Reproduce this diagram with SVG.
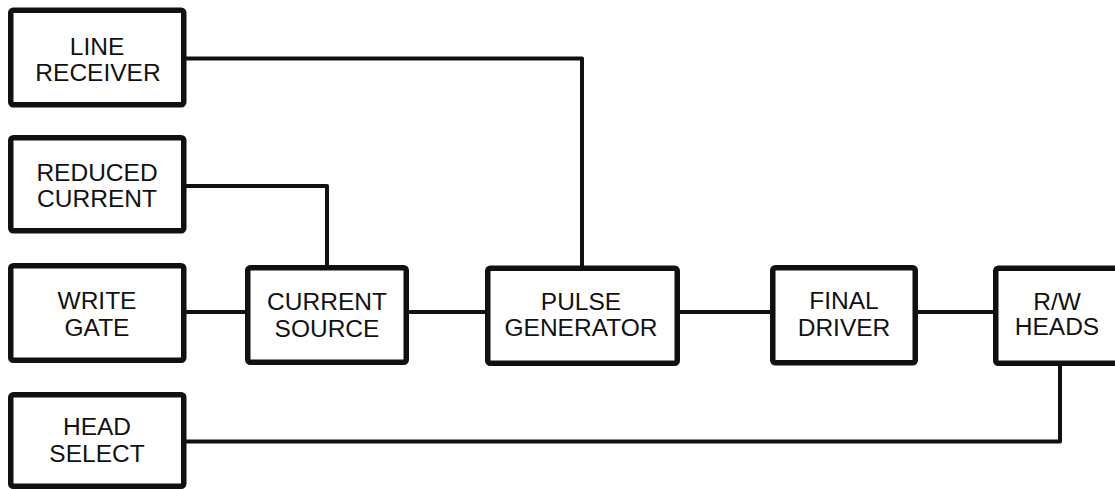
<svg xmlns="http://www.w3.org/2000/svg" width="1115" height="489" viewBox="0 0 1115 489">
<style>
.box{fill:#fff;stroke:#111;stroke-width:5.5;stroke-linejoin:round}
.lbl{font-family:"Liberation Sans",Arial,sans-serif;font-size:24.5px;fill:#111;text-anchor:middle}
.wire{fill:none;stroke:#111;stroke-width:4;stroke-linejoin:round}
</style>
<rect x="0" y="0" width="1115" height="489" fill="#fff"/>
<g id="connectors">
<polyline class="wire" points="186,58.5 582,58.5 582,266"/>
<polyline class="wire" points="186,186 327,186 327,265"/>
<line class="wire" x1="186" y1="312" x2="245" y2="312"/>
<line class="wire" x1="409" y1="312" x2="485" y2="312"/>
<line class="wire" x1="680" y1="312" x2="770" y2="312"/>
<line class="wire" x1="918" y1="312" x2="993" y2="312"/>
<polyline class="wire" points="1060,366 1060,441.5 186,441.5"/>
</g>
<g id="line-receiver">
<rect class="box" x="10.75" y="10.25" width="173" height="94.5" rx="2.5"/>
<text class="lbl" x="97" y="55">LINE</text>
<text class="lbl" x="98" y="81">RECEIVER</text>
</g>
<g id="reduced-current">
<rect class="box" x="10.75" y="137.75" width="173" height="93" rx="2.5"/>
<text class="lbl" x="97" y="181">REDUCED</text>
<text class="lbl" x="97" y="207">CURRENT</text>
</g>
<g id="write-gate">
<rect class="box" x="10.75" y="265.75" width="173" height="94.5" rx="2.5"/>
<text class="lbl" x="97" y="309">WRITE</text>
<text class="lbl" x="97" y="336">GATE</text>
</g>
<g id="current-source">
<rect class="box" x="247.75" y="267.75" width="158.5" height="94.5" rx="2.5"/>
<text class="lbl" x="327" y="310">CURRENT</text>
<text class="lbl" x="327" y="337">SOURCE</text>
</g>
<g id="pulse-generator">
<rect class="box" x="487.75" y="268.25" width="189.5" height="95" rx="2.5"/>
<text class="lbl" x="581" y="309.5">PULSE</text>
<text class="lbl" x="581" y="336">GENERATOR</text>
</g>
<g id="final-driver">
<rect class="box" x="772.75" y="267.75" width="142.5" height="95" rx="2.5"/>
<text class="lbl" x="844" y="309">FINAL</text>
<text class="lbl" x="844" y="336">DRIVER</text>
</g>
<g id="rw-heads">
<rect class="box" x="995.75" y="268.25" width="140" height="95" rx="2.5"/>
<text class="lbl" x="1057" y="310">R/W</text>
<text class="lbl" x="1057" y="335">HEADS</text>
</g>
<g id="head-select">
<rect class="box" x="10.75" y="394.75" width="173" height="91.5" rx="2.5"/>
<text class="lbl" x="97" y="435">HEAD</text>
<text class="lbl" x="97" y="462">SELECT</text>
</g>
</svg>
